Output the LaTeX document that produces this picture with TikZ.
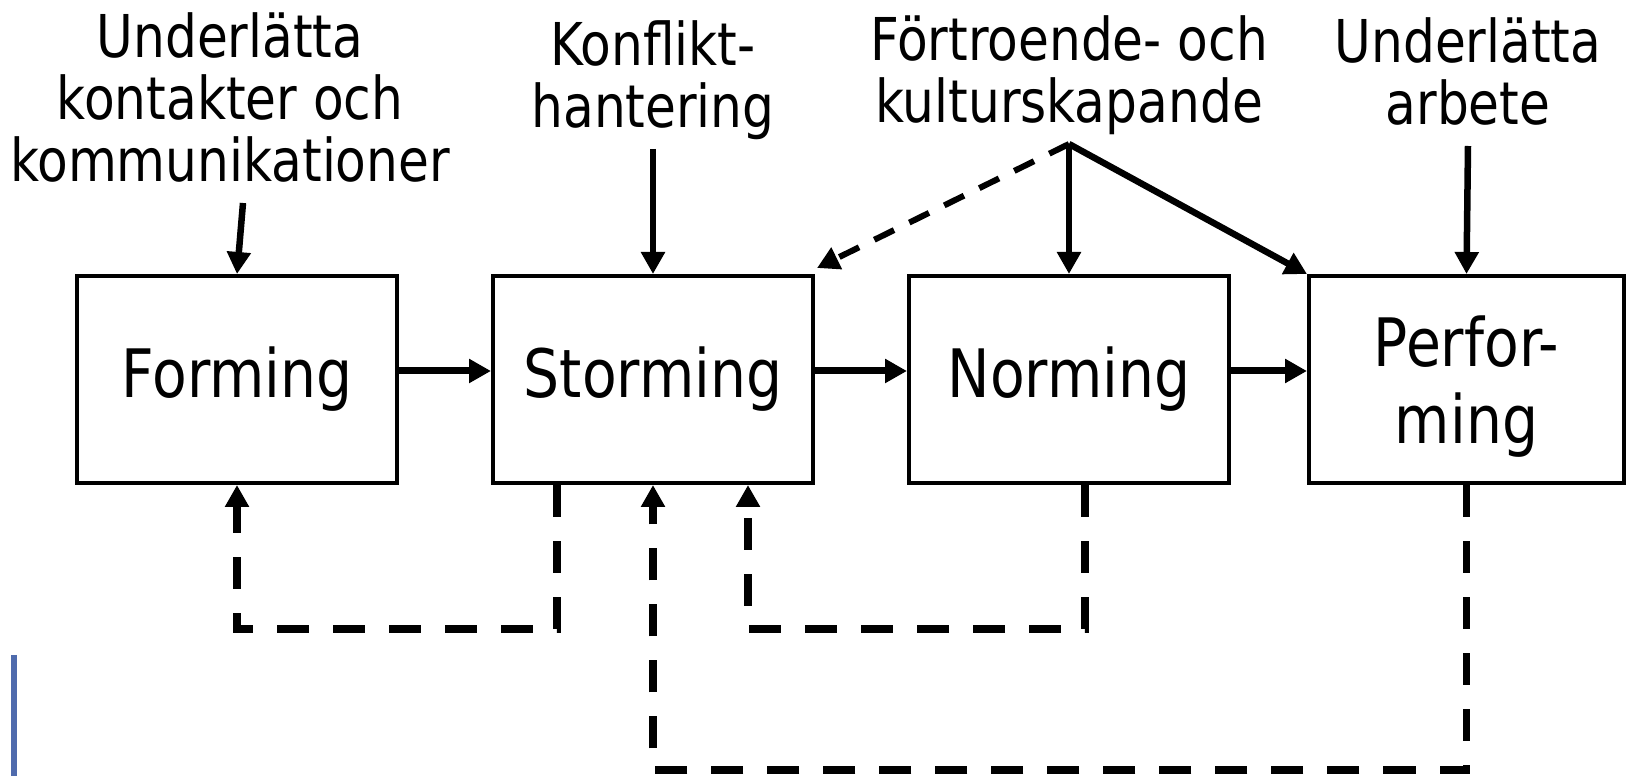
\documentclass[tikz,border=0pt]{standalone}
\usepackage{fontspec}
\setmainfont[FakeStretch=0.85]{DejaVu Sans}
\usetikzlibrary{arrows.meta}
\definecolor{barblue}{RGB}{79,107,173}

\tikzset{
    stagebox/.style={draw, line width=0.04cm, minimum width=3.2cm, minimum height=2.07cm,
        inner sep=0pt, align=center, font=\fontsize{19pt}{22pt}\selectfont},
    notetext/.style={anchor=south, align=center, inner sep=0.03cm, text depth=0.18cm,
        font=\fontsize{16.8pt}{17.6pt}\selectfont},
    inarrow/.style={line width=0.065cm},
    flowarrow/.style={line width=0.07cm},
    backarrow/.style={line width=0.075cm, dash pattern=on 0.32cm off 0.24cm},
    trustarrow/.style={line width=0.06cm, dash pattern=on 0.22cm off 0.17cm}
}

\begin{document}
\begin{tikzpicture}[>={Triangle[length=0.22cm,width=0.23cm]}]
    \useasboundingbox (0,0) rectangle (16.27,7.76);

    % the four stages
    \node[stagebox] (forming) at (2.37,3.965) {Forming};
    \node[stagebox] (storming) at (6.53,3.965) {Storming};
    \node[stagebox] (norming) at (10.69,3.965) {Norming};
    \node[stagebox, minimum width=3.15cm, text depth=0pt] (performing) at (14.665,3.965) {Perfor-\\ming};

    % what the leader does in each stage
    \node[notetext] (kontakt) at (2.30,5.73) {Underlätta\\kontakter och\\kommunikationer};
    \node[notetext] (konflikt) at (6.53,6.27) {Konflikt-\\hantering};
    \node[notetext] (fortroende) at (10.69,6.32) {Förtroende- och\\kulturskapande};
    \node[notetext] (arbete) at (14.68,6.30) {Underlätta\\arbete};

    % arrows from the texts down to the stages
    \draw[->, inarrow] ([xshift=0.13cm]kontakt.south) -- (forming.north);
    \draw[->, inarrow] (konflikt.south) -- (storming.north);
    \draw[->, inarrow] (fortroende.south) -- (norming.north);
    \draw[->, inarrow] (fortroende.south) -- (performing.north west);
    \draw[->, trustarrow] (fortroende.south) -- ([shift={(0.02,0.06)}]storming.north east);
    \draw[->, inarrow] (arbete.south) -- (performing.north);

    % forward flow
    \draw[->, flowarrow] ([yshift=0.085cm]forming.east) -- ([yshift=0.085cm]storming.west);
    \draw[->, flowarrow] ([yshift=0.085cm]storming.east) -- ([yshift=0.085cm]norming.west);
    \draw[->, flowarrow] ([yshift=0.085cm]norming.east) -- ([yshift=0.085cm]performing.west);

    % falling back to earlier stages
    \draw[->, backarrow] ([xshift=-0.96cm]storming.south) -- ++(0,-1.44) -| (forming.south);
    \draw[->, backarrow] ([xshift=0.16cm]norming.south) -- ++(0,-1.44) -| ([xshift=0.95cm]storming.south);
    \draw[->, backarrow] (performing.south) -- ++(0,-2.85) -| (storming.south);

    % blue bar at the lower left
    \draw[barblue, line width=0.06cm] (0.14,1.21) -- (0.14,0);
\end{tikzpicture}
\end{document}
